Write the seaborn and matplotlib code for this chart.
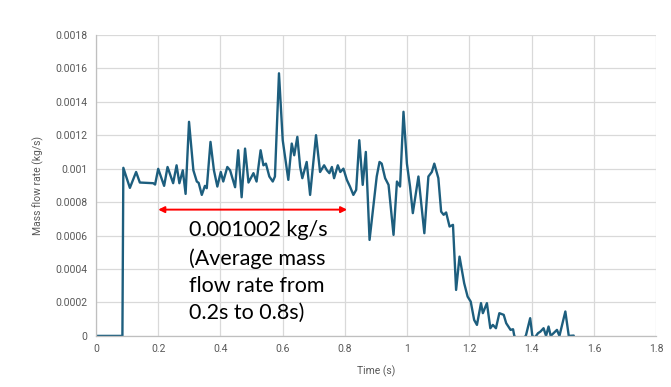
import numpy as np
import pandas as pd
import seaborn as sns
import matplotlib.pyplot as plt
from matplotlib.ticker import FuncFormatter

# Time (s) and mass flow rate (kg/s), ten per row
time_s = [
    0.0, 0.085, 0.088, 0.109, 0.129, 0.141, 0.184, 0.19, 0.2, 0.219,
    0.23, 0.248, 0.259, 0.268, 0.279, 0.288, 0.299, 0.313, 0.324, 0.33,
    0.34, 0.35, 0.356, 0.368, 0.379, 0.39, 0.401, 0.409, 0.422, 0.431,
    0.447, 0.457, 0.468, 0.479, 0.49, 0.506, 0.516, 0.529, 0.538, 0.546,
    0.557, 0.568, 0.575, 0.588, 0.6, 0.609, 0.618, 0.629, 0.637, 0.647,
    0.656, 0.663, 0.677, 0.688, 0.707, 0.72, 0.733, 0.742, 0.75, 0.758,
    0.765, 0.777, 0.785, 0.795, 0.806, 0.816, 0.827, 0.836, 0.846, 0.857,
    0.867, 0.879, 0.891, 0.902, 0.911, 0.918, 0.929, 0.94, 0.956, 0.967,
    0.977, 0.988, 0.999, 1.009, 1.018, 1.036, 1.055, 1.068, 1.079, 1.087,
    1.1, 1.109, 1.117, 1.125, 1.136, 1.147, 1.157, 1.168, 1.183, 1.194,
    1.204, 1.215, 1.224, 1.237, 1.243, 1.256, 1.267, 1.275, 1.285, 1.296,
    1.31, 1.318, 1.332, 1.34, 1.344, 1.36, 1.381, 1.395, 1.402, 1.41,
    1.42, 1.428, 1.438, 1.446, 1.454, 1.461, 1.47, 1.481, 1.489, 1.508,
    1.519, 1.535,
]
flow_kgs = [
    0.0, 0.0, 0.001005, 0.000885, 0.00098, 0.000917, 0.000913, 0.000905, 0.000999, 0.000897,
    0.00101, 0.000913, 0.00102, 0.000913, 0.00099, 0.000849, 0.00128, 0.00099, 0.000923, 0.000915,
    0.000843, 0.000897, 0.000883, 0.00116, 0.00099, 0.000893, 0.00098, 0.000923, 0.00101, 0.00099,
    0.000889, 0.00111, 0.000829, 0.00112, 0.000917, 0.000973, 0.000923, 0.00111, 0.00102, 0.00103,
    0.000953, 0.000923, 0.000953, 0.00157, 0.00117, 0.00105, 0.000933, 0.00115, 0.00108, 0.00119,
    0.00101, 0.000943, 0.00104, 0.000843, 0.0012, 0.00098, 0.00102, 0.00099, 0.000973, 0.00101,
    0.000943, 0.00102, 0.00098, 0.001, 0.000933, 0.000893, 0.000843, 0.000873, 0.00117, 0.000903,
    0.0011, 0.000574, 0.000773, 0.000953, 0.00104, 0.00103, 0.000943, 0.000903, 0.000604, 0.000923,
    0.000893, 0.00134, 0.00103, 0.000893, 0.000734, 0.000953, 0.000614, 0.000953, 0.00098, 0.00103,
    0.000943, 0.000743, 0.000724, 0.000738, 0.000654, 0.000664, 0.000275, 0.000474, 0.000315, 0.000235,
    0.000205, 0.0000957, 0.0000658, 0.000196, 0.000136, 0.000196, 0.000046, 0.000066, 0.000046, 0.000136,
    0.000126, 0.000076, 0.000036, 0.00004, 0.0, -0.00003, 0.0, 0.000106, 0.0, -0.00001,
    0.000016, 0.000026, 0.000046, 0.0, 0.000056, 0.0, 0.000016, 0.000036, 0.0, 0.000146,
    0.0, 0.000002,
]

avg_label = "0.001002 kg/s\n(Average mass\nflow rate from\n0.2s to 0.8s)"
avg_span = [0.2, 0.807]
avg_arrow_y = 0.000755

sns.set_theme(style="whitegrid")
plt.rcParams['font.family'] = ['Roboto', 'DejaVu Sans']

df = pd.DataFrame({"Time (s)": time_s, "Mass flow rate (kg/s)": flow_kgs})

fig = plt.figure(figsize=(6.71, 3.87), dpi=100)
ax = fig.add_axes([0.143, 0.132, 0.835, 0.778])

sns.lineplot(data=df, x="Time (s)", y="Mass flow rate (kg/s)", ax=ax,
             color="#1d5e7e", linewidth=1.7, sort=False)

ax.set_xlim(0, 1.8)
ax.set_ylim(0, 0.0018)
ax.set_xticks(np.round(np.arange(0, 1.81, 0.2), 1))
ax.set_yticks(np.round(np.arange(0, 0.00181, 0.0002), 4))
fmt = FuncFormatter(lambda v, p: f"{v:g}")
ax.xaxis.set_major_formatter(fmt)
ax.yaxis.set_major_formatter(fmt)
ax.tick_params(axis="both", labelsize=7.5, colors="#595959", length=0, pad=6)
ax.grid(True, color="#d9d9d9", linewidth=0.9)
ax.set_facecolor("white")
for s in ["top", "right"]:
    ax.spines[s].set_visible(False)
for s in ["left", "bottom"]:
    ax.spines[s].set_color("#bfbfbf")
    ax.spines[s].set_linewidth(0.9)

ax.set_xlabel("Time (s)", fontsize=7.5, color="#595959", labelpad=8)
ax.set_ylabel("Mass flow rate (kg/s)", fontsize=7.5, color="#595959", labelpad=8)

ax.annotate("", xy=(avg_span[0], avg_arrow_y), xytext=(avg_span[1], avg_arrow_y),
            arrowprops=dict(arrowstyle="<|-|>", color="red", lw=1.4,
                            mutation_scale=9, shrinkA=0, shrinkB=0))
ax.text(0.3, 0.00069, avg_label, fontsize=15.5, color="black", va="top", ha="left",
        family=["Lato", "DejaVu Sans"], linespacing=1.45)

fig.savefig("out.png", dpi=100)
